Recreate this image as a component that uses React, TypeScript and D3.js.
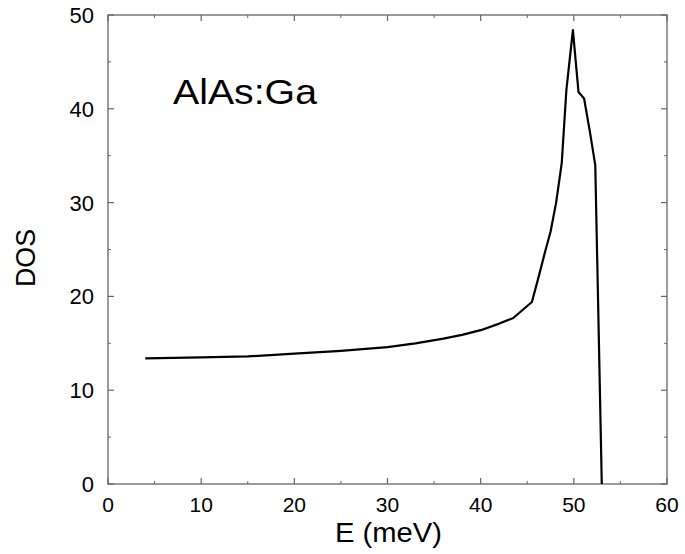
import React from "react";
import * as d3 from "d3";

const energy = [4, 10, 15, 20, 25, 30, 33, 36, 38, 40, 42, 43.5, 45.5, 46.2, 46.9, 47.5, 48.1, 48.7, 49.2, 49.9, 50.5, 51.1, 51.7, 52.3, 52.6, 53.0];
const dos = [13.4, 13.5, 13.6, 13.9, 14.2, 14.6, 15.0, 15.5, 15.9, 16.4, 17.1, 17.7, 19.4, 22.0, 24.7, 26.9, 30.0, 34.2, 42.0, 48.4, 41.8, 41.1, 37.7, 34.0, 19.6, 0];
const xTicks = [0, 10, 20, 30, 40, 50, 60];
const yTicks = [0, 10, 20, 30, 40, 50];
const xMinor = [5, 15, 25, 35, 45, 55];
const yMinor = [5, 15, 25, 35, 45];

export default function App() {
  const left = 108, right = 667, top = 15, bottom = 484;
  const x = d3.scaleLinear().domain([0, 60]).range([left, right]);
  const y = d3.scaleLinear().domain([0, 50]).range([bottom, top]);
  const line = d3.line<number>().x((_, i) => x(energy[i])).y((d) => y(d));
  const font = "Liberation Sans, Arial, Helvetica, sans-serif";
  const axisColor = "#666";
  return (
    <svg width={685} height={554} style={{ position: "absolute", left: 0, top: 0 }} fontFamily={font}>
      <rect x={0} y={0} width={685} height={554} fill="#fff" />
      <rect x={left} y={top} width={right - left} height={bottom - top} fill="none" stroke={axisColor} strokeWidth={1.3} />
      {xTicks.map((t) => (
        <g key={"xt" + t}>
          <line x1={x(t)} x2={x(t)} y1={bottom} y2={bottom - 6} stroke={axisColor} strokeWidth={1.2} />
          <line x1={x(t)} x2={x(t)} y1={top} y2={top + 6} stroke={axisColor} strokeWidth={1.2} />
          <text x={x(t)} y={512} textAnchor="middle" fontSize={21} fill="#000">{t}</text>
        </g>
      ))}
      {xMinor.map((t) => (
        <g key={"xm" + t}>
          <line x1={x(t)} x2={x(t)} y1={bottom} y2={bottom - 3} stroke={axisColor} strokeWidth={1} />
          <line x1={x(t)} x2={x(t)} y1={top} y2={top + 3} stroke={axisColor} strokeWidth={1} />
        </g>
      ))}
      {yTicks.map((t) => (
        <g key={"yt" + t}>
          <line x1={left} x2={left + 6} y1={y(t)} y2={y(t)} stroke={axisColor} strokeWidth={1.2} />
          <line x1={right} x2={right - 6} y1={y(t)} y2={y(t)} stroke={axisColor} strokeWidth={1.2} />
          <text x={94} y={y(t) + 8} textAnchor="end" fontSize={22} fill="#000">{t}</text>
        </g>
      ))}
      {yMinor.map((t) => (
        <g key={"ym" + t}>
          <line x1={left} x2={left + 3} y1={y(t)} y2={y(t)} stroke={axisColor} strokeWidth={1} />
          <line x1={right} x2={right - 3} y1={y(t)} y2={y(t)} stroke={axisColor} strokeWidth={1} />
        </g>
      ))}
      <path d={line(dos) || ""} fill="none" stroke="#000" strokeWidth={2.2} strokeLinejoin="round" />
      <text x={173} y={104} fontSize={35} fill="#000" textLength={144} lengthAdjust="spacingAndGlyphs">AlAs:Ga</text>
      <text x={335} y={542} fontSize={27} fill="#000" textLength={107} lengthAdjust="spacingAndGlyphs">E (meV)</text>
      <text transform={`translate(35,287) rotate(-90)`} fontSize={28} fill="#000" textLength={58} lengthAdjust="spacingAndGlyphs">DOS</text>
    </svg>
  );
}
